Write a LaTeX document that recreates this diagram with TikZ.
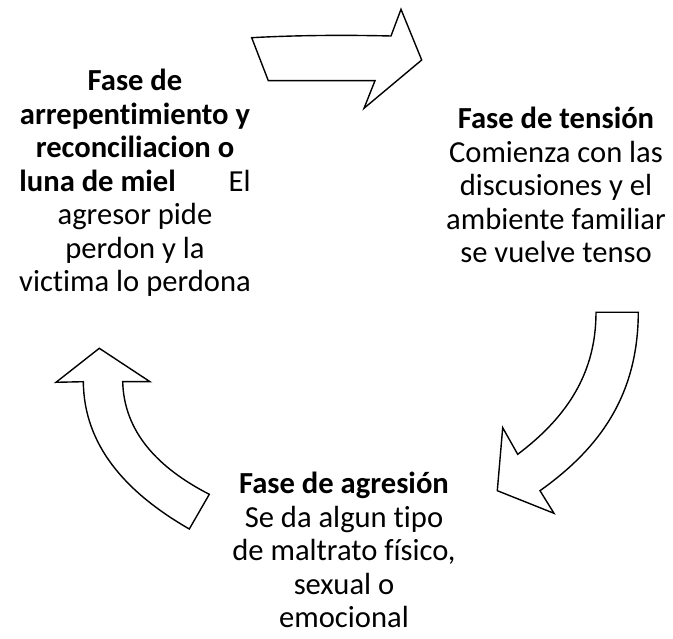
\documentclass[tikz,border=0pt]{standalone}
\usepackage{fontspec}
\setmainfont{Carlito}[RawFeature={-liga;-clig;-calt;-dlig;-rlig}]
\newcommand{\tiNL}{t\kern0pt i}
\begin{document}
\begin{tikzpicture}[x=1pt,y=-1pt,
  arrowshape/.style={draw=black,fill=white,line width=1.4pt,line join=miter},
  phase/.style={align=center,inner sep=0pt,font=\fontsize{30.6}{33.5}\selectfont}]
\useasboundingbox (0,0) rectangle (673,639);
% top arrow
\coordinate (tA) at (251.7,37.7);
\coordinate (tB) at (391,36);
\coordinate (tC) at (401,9.3);
\coordinate (tD) at (421.7,60);
\coordinate (tE) at (364,108.3);
\coordinate (tF) at (375,80.7);
\coordinate (tG) at (268.3,80.7);
\draw[arrowshape] (tA) .. controls (300,35) and (350,35) .. (tB) -- (tC) -- (tD) -- (tE) -- (tF) -- (tG) -- cycle;
% right arrow
\coordinate (rA) at (596,312.3);
\coordinate (rB) at (638.3,312.3);
\coordinate (rC) at (540,490.7);
\coordinate (rD) at (554,513.3);
\coordinate (rE) at (497.3,490.7);
\coordinate (rF) at (502.7,427.7);
\coordinate (rG) at (517.7,454.3);
\draw[arrowshape] (rA) -- (rB) .. controls (638,395) and (600,448) .. (rC) -- (rD) -- (rE) -- (rF) -- (rG) .. controls (570,415) and (596,370) .. (rA) -- cycle;
% left arrow
\coordinate (lA) at (209.3,494.3);
\coordinate (lB) at (189.3,529);
\coordinate (lC) at (83.3,381.7);
\coordinate (lD) at (56,382.3);
\coordinate (lE) at (99.3,348.3);
\coordinate (lF) at (150,381.7);
\coordinate (lG) at (122.7,381.7);
\draw[arrowshape] (lA) -- (lB) .. controls (125,492) and (84,445) .. (lC) -- (lD) -- (lE) -- (lF) -- (lG) .. controls (124,432) and (158,468) .. (lA) -- cycle;
% texts
\node[phase] (left) at (135,183) {\textbf{Fase de}\\\textbf{arrepen\tiNL miento y}\\\textbf{reconciliacion o}\\\textbf{luna de miel}\hspace{1.5em} El\\agresor pide\\perdon y la\\vic\tiNL ma lo perdona};
\node[phase] (right) at (556,185) {\textbf{Fase de tensión}\\Comienza con las\\discusiones y el\\ambiente familiar\\se vuelve tenso};
\node[phase] (bottom) at (344,550) {\textbf{Fase de agresión}\\Se da algun \tiNL po\\de maltrato físico,\\sexual o\\emocional};
\end{tikzpicture}
\end{document}
